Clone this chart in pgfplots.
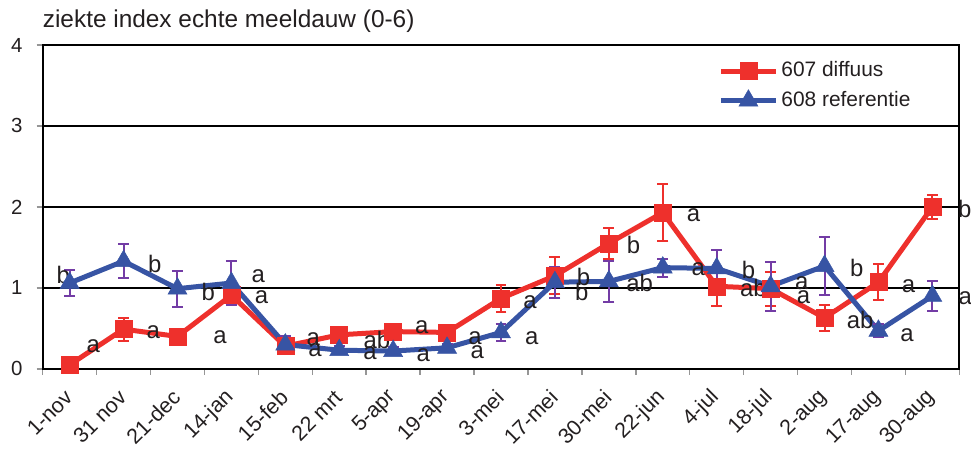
\documentclass[border=0pt]{standalone}
\usepackage{fontspec}
\setmainfont{Liberation Sans}
\usepackage{pgfplots}
\usepackage{pgfplotstable}
\pgfplotsset{compat=1.18}
\definecolor{cred}{RGB}{238,48,44}
\definecolor{cblue}{RGB}{55,84,164}
\definecolor{cpurp}{RGB}{115,60,165}
\definecolor{ctick}{RGB}{150,150,150}
\definecolor{ctxt}{RGB}{35,31,32}
\pgfplotstableread{
idx red redErr blue blueErr
0 0.05 0.03 1.06 0.16
1 0.49 0.14 1.33 0.21
2 0.40 0.05 0.99 0.22
3 0.91 0.10 1.06 0.27
4 0.28 0.05 0.30 0.10
5 0.42 0.05 0.23 0.05
6 0.46 0.05 0.22 0.05
7 0.45 0.05 0.26 0.05
8 0.87 0.17 0.45 0.10
9 1.15 0.23 1.07 0.19
10 1.55 0.19 1.08 0.25
11 1.93 0.35 1.25 0.11
12 1.02 0.24 1.24 0.23
13 0.99 0.21 1.02 0.30
14 0.63 0.16 1.27 0.36
15 1.07 0.22 0.47 0.08
16 2.00 0.15 0.90 0.19
}\data
\begin{document}
\begin{tikzpicture}
\begin{axis}[
  scale only axis, width=917bp, height=324bp,
  xmin=-0.5, xmax=16.5, ymin=0, ymax=4,
  clip=false,
  axis line style={black, line width=2.2bp},
  tick pos=left, tick align=outside,
  major tick length=6bp,
  tick style={ctick, line width=1.5bp},
  xtick={-0.5,0.5,...,16.5},
  x tick label as interval,
  xticklabels={1-nov,31 nov,21-dec,14-jan,15-feb,22 mrt,5-apr,19-apr,3-mei,17-mei,30-mei,22-jun,4-jul,18-jul,2-aug,17-aug,30-aug},
  xticklabel style={xshift=-1bp, yshift=-19bp, rotate=45, anchor=east, font=\fontsize{21.5}{24}\selectfont, text=ctxt, inner sep=0pt},
  ytick={0,1,2,3,4},
  yticklabel style={font=\fontsize{20.5}{24}\selectfont, text=ctxt, inner sep=0pt, xshift=-14bp},
  /pgf/number format/assume math mode=true,
  ymajorgrids, grid style={black, line width=1.6bp},
  title={ziekte index echte meeldauw (0-6)},
  title style={at={(0,1)}, anchor=base west, yshift=12bp, inner sep=0pt, font=\fontsize{24.5}{28}\selectfont, text=ctxt},
  legend cell align=left,
  legend style={at={(0.737,0.952)}, anchor=north west, draw=none, fill=none, inner sep=0pt,
    row sep=8bp, column sep=1bp,
    nodes={inner sep=2bp, text height=14bp, text depth=3bp, font=\fontsize{21}{24}\selectfont, text=ctxt}},
  legend image code/.code={\draw[mark repeat=2, mark phase=2] plot coordinates {(0bp,0bp) (27.5bp,0bp) (55bp,0bp)};},
]
\addplot[cred, line width=5bp, mark=square*, mark size=8.5bp, mark options={solid, fill=cred, draw=cred, line width=0.5bp},
  error bars/.cd, y dir=both, y explicit,
  error bar style={line width=2bp, draw=cred},
  error mark options={rotate=90, line width=2bp, draw=cred, mark size=5.5bp}]
  table[x=idx, y=red, y error=redErr] {\data};
\addlegendentry{607 diffuus}
\addplot[cblue, line width=5bp, mark=triangle*, mark size=11bp, mark options={solid, fill=cblue, draw=cblue, line width=0.5bp},
  error bars/.cd, y dir=both, y explicit,
  error bar style={line width=2bp, draw=cpurp},
  error mark options={rotate=90, line width=2bp, draw=cpurp, mark size=5.5bp}]
  table[x=idx, y=blue, y error=blueErr] {\data};
\addlegendentry{608 referentie}
\begin{scope}[every node/.style={font=\fontsize{24}{26}\selectfont, text=ctxt, inner sep=0pt}]
\node at (axis cs:-0.12,1.16) {b};
\node at (axis cs:0.44,0.28) {a};
\node at (axis cs:1.58,1.30) {b};
\node at (axis cs:1.55,0.45) {a};
\node at (axis cs:2.57,0.95) {b};
\node at (axis cs:2.79,0.39) {a};
\node at (axis cs:3.50,1.14) {a};
\node at (axis cs:3.56,0.89) {a};
\node at (axis cs:4.52,0.37) {a};
\node at (axis cs:4.55,0.23) {a};
\node at (axis cs:5.70,0.36) {ab};
\node at (axis cs:5.57,0.19) {a};
\node at (axis cs:6.53,0.52) {a};
\node at (axis cs:6.56,0.17) {a};
\node at (axis cs:7.52,0.38) {a};
\node at (axis cs:7.56,0.21) {a};
\node at (axis cs:8.54,0.82) {a};
\node at (axis cs:8.57,0.38) {a};
\node at (axis cs:9.53,1.14) {b};
\node at (axis cs:9.50,0.95) {b};
\node at (axis cs:10.46,1.53) {b};
\node at (axis cs:10.57,1.06) {ab};
\node at (axis cs:11.57,1.90) {a};
\node at (axis cs:11.66,1.23) {a};
\node at (axis cs:12.59,1.22) {b};
\node at (axis cs:12.68,1.00) {ab};
\node at (axis cs:13.58,1.06) {a};
\node at (axis cs:13.61,0.89) {a};
\node at (axis cs:14.60,1.24) {b};
\node at (axis cs:14.66,0.60) {ab};
\node at (axis cs:15.56,1.02) {a};
\node at (axis cs:15.53,0.42) {a};
\node at (axis cs:16.60,1.97) {b};
\node at (axis cs:16.61,0.87) {a};
\end{scope}
\coordinate (SW) at (rel axis cs:0,0);
\coordinate (NE) at (rel axis cs:1,1);
\end{axis}
\pgfresetboundingbox
\path ([shift={(-42.7bp,-86bp)}]SW) rectangle ([shift={(11.7bp,45bp)}]NE);
\end{tikzpicture}
\end{document}
